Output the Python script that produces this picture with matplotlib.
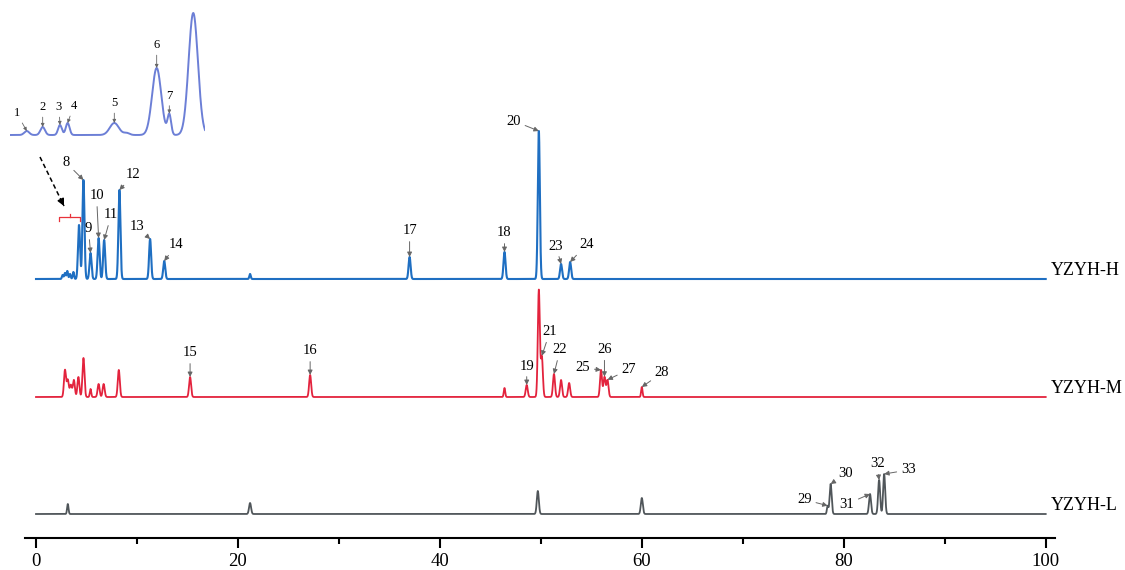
import numpy as np
import matplotlib.pyplot as plt
from matplotlib.ticker import MultipleLocator

plt.rcParams['font.family'] = ['Liberation Serif', 'DejaVu Serif']

# peak tables: retention time (min), height
h_rt = [2.64, 2.87, 3.1, 3.37, 3.7, 4.26, 4.7, 5.4, 6.2, 6.75, 8.26, 11.3, 12.7,
        21.2, 37.0, 46.4, 49.8, 52.0, 52.9]
h_ht = [4, 6, 8, 5, 7, 54, 99, 26, 41, 39, 89, 40, 18, 5, 22, 27, 148, 15, 17]

m_rt = [2.87, 3.15, 3.45, 3.75, 4.2, 4.7, 5.4, 6.2, 6.7, 8.2, 15.26, 27.15,
        46.4, 48.6, 49.8, 50.1, 51.3, 52.0, 52.8, 55.96, 56.3, 56.6, 60.0]
m_ht = [27, 17, 12, 17, 20, 39, 8, 13, 13, 27, 20, 22, 9, 12, 107, 40, 23, 17,
        14, 27, 20, 17, 10]

l_rt = [3.15, 21.2, 49.7, 60.0, 78.4, 78.7, 82.6, 83.5, 84.0]
l_ht = [10, 11, 23, 16, 8, 30, 20, 34, 40]

# enlarged early part of YZYH-H (peaks 1-7)
in_rt = [2.476, 2.644, 2.826, 2.907, 3.398, 3.528, 3.844, 3.977, 4.229]
in_ht = [4, 8, 10, 12, 12, 2, 67, 20, 122]
in_sd = [0.026, 0.024, 0.02, 0.02, 0.048, 0.03, 0.048, 0.019, 0.049]
in_lbl = ['1', '2', '3', '4', '5', None, '6', '7', None]
in_off = [(-10, 18), (0, 20), (-1, 18), (6, 17), (0, 20), None, (0, 23), (0, 18), None]

# peak labels: number, retention time, text offset (px)
h_lbl = [('8', 4.7, (-17, 17)), ('9', 5.4, (-2, 24)), ('10', 6.2, (-2, 42)),
         ('11', 6.75, (7, 25)), ('12', 8.26, (14, 15)), ('13', 11.3, (-13, 12)),
         ('14', 12.7, (12, 16)), ('17', 37.0, (0, 26)), ('18', 46.4, (0, 19)),
         ('20', 49.8, (-25, 10)), ('23', 52.0, (-5, 18)), ('24', 52.9, (16, 17))]
m_lbl = [('15', 15.26, (0, 24)), ('16', 27.15, (0, 24)), ('19', 48.6, (0, 19)),
         ('21', 50.1, (8, 24)), ('22', 51.3, (6, 24)), ('25', 55.96, (-18, 2)),
         ('26', 56.3, (0, 27)), ('27', 56.6, (21, 10)), ('28', 60.0, (20, 14))]
l_lbl = [('29', 78.4, (-23, 6)), ('30', 78.7, (15, 10)), ('31', 82.6, (-23, -10)),
         ('32', 83.5, (-2, 16)), ('33', 84.0, (24, 4))]

SIGMA = 0.1
PX0, PPM = 36, 10.097          # pixel of t=0, pixels per minute
W, H = 1125, 570


def trace(t, rts, hts, sds=None):
    y = np.zeros_like(t)
    for i, (c, h) in enumerate(zip(rts, hts)):
        s = (SIGMA if h > 10 else 0.07) if sds is None else sds[i]
        y += h * np.exp(-0.5 * ((t - c) / s) ** 2)
    return y


def px(x, y):
    return (x - PX0) / PPM, H - y


fig = plt.figure(figsize=(W / 100, H / 100), dpi=100)
ax = fig.add_axes([0, 0, 1, 1])
ax.set_xlim(-PX0 / PPM, (W - PX0) / PPM)
ax.set_ylim(0, H)

t = np.linspace(0, 100, 40001)
series = [
    ('YZYH-H', h_rt, h_ht, 291, '#1f6fc2', 1.5, h_lbl),
    ('YZYH-M', m_rt, m_ht, 173, '#e3233d', 1.3, m_lbl),
    ('YZYH-L', l_rt, l_ht, 56, '#50565a', 1.3, l_lbl),
]
arrow = dict(arrowstyle='-|>', color='#666666', lw=0.7, mutation_scale=7,
             shrinkA=1, shrinkB=0)
for name, rts, hts, base, col, lw, labels in series:
    y = base + trace(t, rts, hts)
    ax.plot(t, y, color=col, lw=lw)
    ax.text(px(1051, 0)[0], base + 8.5, name, fontsize=13, ha='left', va='center')
    for lab, rt, off in labels:
        yy = np.interp(rt, t, y)
        ax.annotate(lab, xy=(rt, yy), xytext=off, textcoords='offset pixels',
                    fontsize=10.5, ha='center', va='center', arrowprops=arrow)

# x axis
ax.spines[['top', 'right', 'left']].set_visible(False)
ax.spines['bottom'].set_position(('data', 32))
ax.spines['bottom'].set_bounds(px(25, 0)[0], px(1055, 0)[0])
ax.spines['bottom'].set_linewidth(1.5)
ax.xaxis.set_major_locator(MultipleLocator(20))
ax.xaxis.set_minor_locator(MultipleLocator(10))
ax.tick_params(axis='x', which='major', length=7.5, width=1.5, labelsize=13.5, pad=3)
ax.tick_params(axis='x', which='minor', length=4.5, width=1.5)
ax.set_yticks([])

# inset
x_lo, x_hi = 2.3, 2.3 + 195 / 95
ins = fig.add_axes([10 / W, (H - 140) / H, 195 / W, 135 / H])
ins.set_xlim(x_lo, x_hi)
ins.set_ylim(-5, 130)
ins.axis('off')
ti = np.linspace(x_lo, x_hi, 2000)
yi = trace(ti, in_rt, in_ht, in_sd)
ins.plot(ti, yi, color='#6c7fd6', lw=1.4)
for rt, lab, off in zip(in_rt, in_lbl, in_off):
    if lab is None:
        continue
    ins.annotate(lab, xy=(rt, np.interp(rt, ti, yi)), xytext=off,
                 textcoords='offset pixels', fontsize=9, ha='center', va='center',
                 annotation_clip=False,
                 arrowprops=dict(arrowstyle='-|>', color='#666666', lw=0.6,
                                 mutation_scale=5, shrinkA=1, shrinkB=0))

# bracket on the zoomed range and dashed pointer
by = px(0, 217)[1]
ax.plot([x_lo, x_lo, x_hi, x_hi], [by - 4, by, by, by - 4], color='#e8323a', lw=0.9)
xm = (x_lo + x_hi) / 2
ax.plot([xm, xm], [by, by + 3], color='#e8323a', lw=0.9)
p0, p1 = px(40, 157), px(64, 206)
ax.plot([p0[0], p1[0]], [p0[1], p1[1]], color='k', lw=1.1, ls=(0, (3, 2)))
ax.annotate('', xy=p1, xytext=px(61, 200),
            arrowprops=dict(arrowstyle='-|>', color='k', lw=1.1, mutation_scale=10,
                            shrinkA=0, shrinkB=0))

fig.savefig('out.png', dpi=100)
